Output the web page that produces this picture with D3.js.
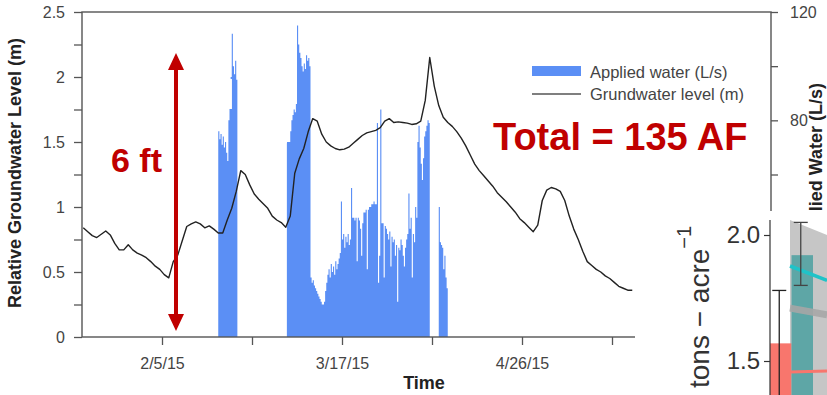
<!DOCTYPE html>
<html lang="en">
<head>
<meta charset="UTF-8">
<title>Applied water and groundwater level</title>
<script src="https://cdn.jsdelivr.net/npm/d3@7"></script>
<style>
    body { margin: 0; background: #fff; }
    svg { display: block; font-family: Arial, "Liberation Sans", sans-serif; }
</style>
</head>
<body>
<script>
    // ---- data ----
    // groundwater level (m), one value per day starting at gwStart
    let gwStart = "2015-01-18 12:00";
    let groundwater = [
        0.84, 0.81, 0.78, 0.765, 0.79, 0.815, 0.785, 0.72, 0.67, 0.67,
        0.71, 0.67, 0.645, 0.63, 0.61, 0.58, 0.545, 0.52, 0.48, 0.455,
        0.58, 0.63, 0.74, 0.85, 0.87, 0.885, 0.87, 0.84, 0.855, 0.83,
        0.80, 0.80, 0.90, 0.99, 1.12, 1.28, 1.25, 1.17, 1.10, 1.06,
        1.025, 0.99, 0.93, 0.90, 0.88, 0.845, 0.93, 1.26, 1.37, 1.45,
        1.58, 1.68, 1.66, 1.56, 1.50, 1.47, 1.45, 1.44, 1.445, 1.46,
        1.49, 1.52, 1.55, 1.57, 1.58, 1.59, 1.61, 1.66, 1.68, 1.65,
        1.655, 1.65, 1.645, 1.635, 1.64, 1.66, 1.82, 2.15, 1.93, 1.78,
        1.69, 1.65, 1.62, 1.58, 1.53, 1.47, 1.40, 1.33, 1.28, 1.24,
        1.20, 1.16, 1.11, 1.075, 1.04, 1.00, 0.96, 0.91, 0.88, 0.845,
        0.81, 0.86, 1.05, 1.13, 1.15, 1.14, 1.12, 1.05, 0.93, 0.83,
        0.75, 0.66, 0.58, 0.55, 0.52, 0.50, 0.47, 0.45, 0.42, 0.39,
        0.375, 0.36, 0.36
    ];

    // applied water (L/s), 6-hourly values for each irrigation event
    let pulseStarts = ["2015-02-17 12:00", "2015-03-04 18:00", "2015-04-07 12:00"];
    let pulse1 = [76, 73, 75, 71, 74, 70, 72, 68, 65, 80, 90, 96, 112, 100, 97, 102, 95];
    let pulse2 = [
        72, 72, 72, 76, 80, 82, 84, 83, 86, 115,
        108, 105, 103, 100, 98, 101, 99, 104, 102, 103,
        100, 22, 20, 21, 19, 18, 17, 16, 15, 14,
        13, 12, 12, 13, 17, 20, 23, 25, 22, 27,
        24, 26, 23, 28, 25, 27, 29, 31, 50, 36,
        38, 33, 37, 35, 38, 34, 36, 55, 44, 44,
        43, 44, 28, 44, 43, 40, 30, 42, 46, 46,
        47, 25, 47, 48, 48, 49, 49, 50, 49, 49,
        79, 20, 30, 84, 42, 42, 22, 41, 40, 38,
        36, 39, 26, 37, 35, 36, 30, 34, 13, 33,
        32, 36, 34, 30, 26, 33, 36, 38, 53, 40,
        44, 22, 38, 35, 48, 44, 72, 78, 70, 64,
        58, 66, 74, 76, 78, 80, 79
    ];
    let pulse3 = [48, 35, 34, 33, 25, 30, 22, 18];
    let pulseValues = [pulse1, pulse2, pulse3];

    // axis ticks
    let xTickDates = ["2015-02-05", "2015-02-25", "2015-03-17", "2015-04-06", "2015-04-26", "2015-05-16", "2015-06-05"];
    let xTickLabels = ["2/5/15", "", "3/17/15", "", "4/26/15", "", "6/5/15"];
    let leftTicks = [0, 0.25, 0.5, 0.75, 1, 1.25, 1.5, 1.75, 2, 2.25, 2.5];
    let leftLabels = ["0", "", "0.5", "", "1", "", "1.5", "", "2", "", "2.5"];
    let rightTicks = [0, 20, 40, 60, 80, 100, 120];
    let rightLabels = ["0", "", "40", "", "80", "", "120"];

    // white patches that hide parts of the bars in the picture (start, end, top, bottom in m)
    let coverBoxes = [
        ["2015-02-14 08:00", "2015-02-20 13:00", 1.985, 1.754],
        ["2015-02-26 19:00", "2015-03-04 18:00", 2.01, 1.49]
    ];

    // overlapping piece of another figure (tons / acre)
    let insetBars = [1.57, 1.92];
    let insetErrLow = [1.36, 1.80];
    let insetErrHigh = [1.78, 2.05];
    let insetRibbonTop = [2.06, 2.0];
    let insetCyanLine = [1.877, 1.82];
    let insetGrayLine = [1.71, 1.683];
    let insetRedLine = [1.456, 1.46];

    let red = '#c00000';
    let blue = '#5b8ff5';
    let axisGray = '#555';
    let textGray = '#444';

    let parseTime = d3.utcParse('%Y-%m-%d %H:%M');

    let svg = d3.select('body').append('svg')
        .attr('width', 827)
        .attr('height', 395);

    // scales
    let x = d3.scaleUtc()
        .domain([parseTime('2015-01-18 05:20'), parseTime('2015-06-20 08:00')])
        .range([82, 771]);
    let yL = d3.scaleLinear().domain([0, 2.5]).range([337, 12]);
    let yR = d3.scaleLinear().domain([0, 120]).range([337, 12]);

    // applied water as step areas
    let pulses = pulseValues.map((vals, k) => {
        let t0 = parseTime(pulseStarts[k]);
        let pts = vals.map((v, i) => ({ t: d3.utcHour.offset(t0, 6 * i), v: v }));
        pts.push({ t: d3.utcHour.offset(t0, 6 * vals.length), v: 0 });
        return pts;
    });
    let area = d3.area()
        .curve(d3.curveStepAfter)
        .x(d => x(d.t))
        .y0(yR(0))
        .y1(d => yR(d.v));
    svg.selectAll('path.applied').data(pulses)
        .enter()
        .append('path')
        .attr('class', 'applied')
        .attr('d', d => area(d))
        .attr('fill', blue);

    svg.selectAll('rect.cover').data(coverBoxes)
        .enter()
        .append('rect')
        .attr('class', 'cover')
        .attr('x', d => x(parseTime(d[0])))
        .attr('width', d => x(parseTime(d[1])) - x(parseTime(d[0])))
        .attr('y', d => yL(d[2]))
        .attr('height', d => yL(d[3]) - yL(d[2]))
        .attr('fill', '#fff');

    // groundwater line
    let gw0 = parseTime(gwStart);
    let gwPoints = groundwater.map((v, i) => ({ t: d3.utcDay.offset(gw0, i), v: v }));
    let line = d3.line().x(d => x(d.t)).y(d => yL(d.v));
    svg.append('path')
        .attr('d', line(gwPoints))
        .attr('fill', 'none')
        .attr('stroke', '#222')
        .attr('stroke-width', 1.4)
        .attr('stroke-linejoin', 'round');

    // axes
    function styleAxis(g) {
        g.select('.domain').remove();
        g.selectAll('.tick line').attr('stroke', axisGray).attr('stroke-width', 1.3);
        g.selectAll('.tick text').attr('fill', textGray).attr('font-size', 16)
            .attr('font-family', 'Arial, "Liberation Sans", sans-serif');
    }
    svg.append('g')
        .attr('transform', 'translate(0,337)')
        .call(d3.axisBottom(x)
            .tickValues(xTickDates.map(d => parseTime(d + ' 00:00')))
            .tickFormat((d, i) => xTickLabels[i])
            .tickSize(8).tickPadding(13).tickSizeOuter(0))
        .call(styleAxis);
    svg.append('g')
        .attr('transform', 'translate(82,0)')
        .call(d3.axisLeft(yL)
            .tickValues(leftTicks)
            .tickFormat((d, i) => leftLabels[i])
            .tickSize(8).tickPadding(9).tickSizeOuter(0))
        .call(styleAxis);
    svg.append('g')
        .attr('transform', 'translate(771,0)')
        .call(d3.axisRight(yR)
            .tickValues(rightTicks)
            .tickFormat((d, i) => rightLabels[i])
            .tickSize(7).tickPadding(12).tickSizeOuter(0))
        .call(styleAxis);

    // frame
    svg.append('rect')
        .attr('x', x.range()[0])
        .attr('y', yL.range()[1])
        .attr('width', x.range()[1] - x.range()[0])
        .attr('height', yL.range()[0] - yL.range()[1])
        .attr('fill', 'none')
        .attr('stroke', axisGray)
        .attr('stroke-width', 1.4);

    // axis titles
    svg.append('text')
        .attr('transform', 'translate(21,173) rotate(-90)')
        .attr('text-anchor', 'middle')
        .attr('font-size', 18)
        .attr('font-weight', 'bold')
        .attr('fill', '#222')
        .text('Relative Groundwater Level (m)');
    svg.append('text')
        .attr('transform', 'translate(822,83) rotate(-90)')
        .attr('text-anchor', 'end')
        .attr('font-size', 18)
        .attr('font-weight', 'bold')
        .attr('fill', '#222')
        .text('Applied Water (L/s)');
    svg.append('text')
        .attr('x', 424)
        .attr('y', 389)
        .attr('text-anchor', 'middle')
        .attr('font-size', 18)
        .attr('font-weight', 'bold')
        .attr('fill', '#222')
        .text('Time');

    // legend
    svg.append('rect').attr('x', 532).attr('y', 66).attr('width', 49).attr('height', 10).attr('fill', blue);
    svg.append('line').attr('x1', 532).attr('x2', 581).attr('y1', 94).attr('y2', 94)
        .attr('stroke', axisGray).attr('stroke-width', 1.5);
    svg.append('text').attr('x', 590).attr('y', 78).attr('font-size', 16.5).attr('fill', textGray)
        .text('Applied water (L/s)');
    svg.append('text').attr('x', 590).attr('y', 100).attr('font-size', 16.5).attr('fill', textGray)
        .text('Grundwater level (m)');

    // annotations
    let ax = 176;
    svg.append('line')
        .attr('x1', ax).attr('x2', ax)
        .attr('y1', 68).attr('y2', 316)
        .attr('stroke', red).attr('stroke-width', 4);
    svg.append('path')
        .attr('d', `M${ax},53 L${ax - 8},70 L${ax + 8},70 Z M${ax},331 L${ax - 8},314 L${ax + 8},314 Z`)
        .attr('fill', red);
    svg.append('text')
        .attr('x', 111).attr('y', 172)
        .attr('font-size', 34).attr('font-weight', 'bold').attr('fill', red)
        .text('6 ft');
    svg.append('text')
        .attr('x', 493).attr('y', 150)
        .attr('font-size', 38).attr('font-weight', 'bold').attr('fill', red)
        .text('Total = 135 AF');

    // ---- overlapping inset (tons per acre) ----
    let inset = svg.append('g');
    inset.append('rect')
        .attr('x', 635).attr('y', 211).attr('width', 192).attr('height', 184)
        .attr('fill', '#fff');

    let yI = d3.scaleLinear().domain([1.5, 2.0]).range([361, 235]);
    let xI = d3.scaleBand().domain([0, 1]).range([770, 813]);
    let xT = d3.scaleLinear().domain([0, 1]).range([790, 827]);

    // grey confidence ribbon
    inset.append('path')
        .attr('d', d3.area().x((d, i) => xT(i)).y0(yI(1.3)).y1(d => yI(d))(insetRibbonTop))
        .attr('fill', '#c6c6c6');

    inset.selectAll('rect.ibar').data(insetBars)
        .enter()
        .append('rect')
        .attr('class', 'ibar')
        .attr('x', (d, i) => xI(i))
        .attr('width', xI.bandwidth())
        .attr('y', d => yI(d))
        .attr('height', d => yI(1.3) - yI(d))
        .attr('fill', (d, i) => i === 0 ? '#f8766d' : '#5ea6a6');

    let trend = d3.line().x((d, i) => xT(i)).y(d => yI(d));
    inset.append('path').attr('d', trend(insetGrayLine))
        .attr('stroke', '#a6a6a6').attr('stroke-width', 7).attr('fill', 'none').attr('opacity', 0.9);
    inset.append('path').attr('d', trend(insetCyanLine))
        .attr('stroke', '#1fc3c8').attr('stroke-width', 3.5).attr('fill', 'none');
    inset.append('path').attr('d', trend(insetRedLine))
        .attr('stroke', '#f8766d').attr('stroke-width', 3).attr('fill', 'none');

    // error bars
    insetBars.forEach((d, i) => {
        let cx = xI(i) + xI.bandwidth() / 2 - 1.5;
        let c = i === 0 ? '#222' : '#444';
        inset.append('line').attr('x1', cx).attr('x2', cx)
            .attr('y1', yI(insetErrHigh[i])).attr('y2', yI(insetErrLow[i]))
            .attr('stroke', c).attr('stroke-width', 1.3);
        [insetErrHigh[i], insetErrLow[i]].forEach(v => {
            inset.append('line').attr('x1', cx - 7).attr('x2', cx + 7)
                .attr('y1', yI(v)).attr('y2', yI(v))
                .attr('stroke', c).attr('stroke-width', 1.3);
        });
    });

    // inset axis
    inset.append('line')
        .attr('x1', 770).attr('x2', 770).attr('y1', 220).attr('y2', 395)
        .attr('stroke', '#333').attr('stroke-width', 1.2);
    inset.append('g')
        .attr('transform', 'translate(770,0)')
        .call(d3.axisLeft(yI).tickValues([1.5, 2.0]).tickFormat(d3.format('.1f'))
            .tickSize(6).tickPadding(4).tickSizeOuter(0))
        .call(g => {
            g.select('.domain').remove();
            g.selectAll('.tick line').attr('stroke', '#333').attr('stroke-width', 1.2);
            g.selectAll('.tick text').attr('fill', '#333').attr('font-size', 24)
                .attr('font-family', 'Arial, "Liberation Sans", sans-serif');
        });

    let unit = inset.append('text')
        .attr('transform', 'translate(709,388) rotate(-90)')
        .attr('font-size', 28)
        .attr('fill', '#333');
    unit.append('tspan').text('tons \u2212 acre');
    unit.append('tspan').attr('dy', -18).attr('font-size', 20).text('\u22121');
</script>
</body>
</html>
